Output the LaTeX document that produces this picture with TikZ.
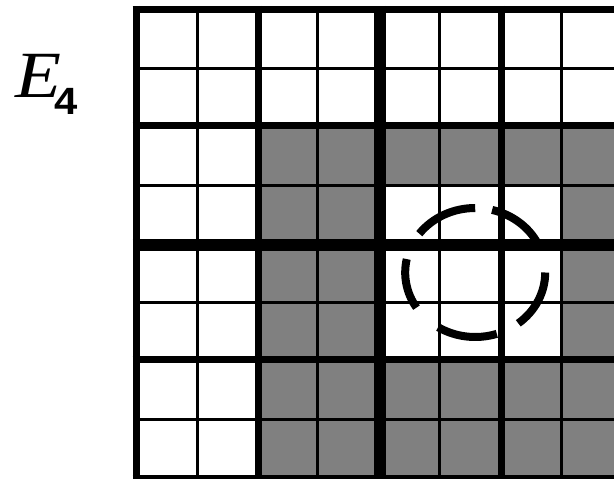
\documentclass[tikz,border=0pt]{standalone}
\usepackage{fontspec}
\usepackage{graphicx}
\newfontfamily\eF{Liberation Serif}
\newfontfamily\fF{Liberation Sans}
\definecolor{cellgray}{HTML}{808080}
\tikzset{
  thinline/.style={line width=3pt, black},
  midline/.style={line width=7pt, black},
  thickline/.style={line width=12pt, black},
  ringdash/.style={line width=8pt, black, line cap=butt},
}
\begin{document}
\begin{tikzpicture}[x=1pt,y=-1pt]
\useasboundingbox (0,0) rectangle (614,479);
\clip (0,0) rectangle (614,479);
\fill[white] (0,0) rectangle (614,479);
% column and row positions
\def\xs{136,197,258,317.5,380,439.5,501,561.5,622}
\def\ys{9.3,68.3,125.5,185.3,245,302.7,359,419.7,478.5}
% gray cells
\fill[cellgray, even odd rule] (258,125.5) rectangle (622,478.5)
      (380,185.3) rectangle (561.5,359);
% thin lines
\foreach \x in \xs {\draw[thinline] (\x,9.3) -- (\x,478.5);}
\foreach \y in \ys {\draw[thinline] (136,\y) -- (622,\y);}
% medium lines
\foreach \x in {136,258,501,622} {\draw[midline] (\x,5.8) -- (\x,482);}
\foreach \y in {9.3,125.5,359,478.5} {\draw[midline] (132.5,\y) -- (625.5,\y);}
% thick lines
\draw[thickline] (380,5.8) -- (380,482);
\draw[thickline] (132.5,245) -- (625.5,245);
% dashed ring
\coordinate (c) at (475.2,272.5);
\foreach \a/\b in {90/143,168/213,238/288,308/360,25/76}
  {\draw[ringdash] (c) ++(-\a:70 and 64.5) arc[start angle=-\a, end angle=-\b, x radius=70, y radius=64.5];}
% label
\node[anchor=base west, inner sep=0] (lbl) at (15,97)
  {\scalebox{1.14}[1]{\eF\itshape\fontsize{66}{72}\selectfont E}\kern-7pt\raisebox{-17pt}{\scalebox{1.1}[1]{\fF\bfseries\fontsize{38}{40}\selectfont 4}}};
\end{tikzpicture}
\end{document}
